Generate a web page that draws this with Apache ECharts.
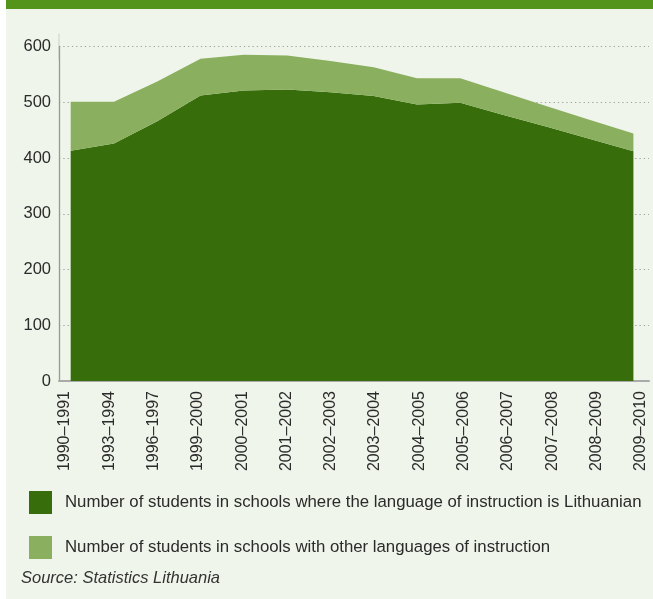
<!DOCTYPE html>
<html>
<head>
<meta charset="utf-8">
<script src="https://cdn.jsdelivr.net/npm/echarts@6/dist/echarts.min.js"></script>
<style>
  html, body { margin: 0; padding: 0; background: #fff; }
  #main { width: 653px; height: 599px; }
</style>
</head>
<body>
<div id="main"></div>
<script>
var years = ['1990–1991', '1993–1994', '1996–1997', '1999–2000', '2000–2001', '2001–2002', '2002–2003',
    '2003–2004', '2004–2005', '2005–2006', '2006–2007', '2007–2008', '2008–2009', '2009–2010'];
// thousands of students
var lithuanian = [413, 426, 466, 512, 521, 523, 518, 511, 496, 499, 477, 456, 434, 412];
var other = [88, 75, 71, 66, 64, 61, 56, 52, 47, 44, 41, 37, 34, 32];
var yTicks = [0, 100, 200, 300, 400, 500, 600];

var nameLt = 'Number of students in schools where the language of instruction is Lithuanian';
var nameOther = 'Number of students in schools with other languages of instruction';

var font = "'Liberation Sans', Arial, sans-serif";
var txt = '#2b2b2b';

// value first so that stacking happens on the value dimension
function pairs(list) {
    return list.map(function (v, i) { return [v, i]; });
}

var myChart = echarts.init(document.getElementById('main'));

myChart.setOption({
    backgroundColor: '#eff5ea',
    animation: false,
    textStyle: {fontFamily: font},
    graphic: [
        {type: 'rect', shape: {x: 0, y: 0, width: 6, height: 599}, style: {fill: '#ffffff'}},
        {type: 'rect', shape: {x: 6, y: 0, width: 647, height: 9}, style: {fill: '#55941a'}},
        {
            type: 'text', left: 21, top: 570,
            style: {text: 'Source: Statistics Lithuania', font: 'italic 16.5px ' + font, fill: '#333'}
        }
    ],
    legend: {
        orient: 'vertical',
        left: 24,
        top: 486,
        itemWidth: 23,
        itemHeight: 23,
        itemGap: 22,
        icon: 'rect',
        selectedMode: false,
        textStyle: {fontSize: 16.8, color: txt, padding: [0, 0, 0, 8]},
        data: [nameLt, nameOther]
    },
    grid: [
        {left: 59, right: 4, top: 46.5, bottom: 218, outerBoundsMode: 'none'},
        // labels of the original chart are spaced a little wider than the data points
        {left: 42.85, right: -10, top: 46.5, bottom: 218, outerBoundsMode: 'none'}
    ],
    xAxis: [
        {
            type: 'value',
            gridIndex: 0,
            min: -0.27,
            max: 13.36,
            splitLine: {show: false},
            axisTick: {show: false},
            axisLabel: {show: false},
            axisLine: {show: true, onZero: false, lineStyle: {color: '#aaaaaa', width: 2}}
        },
        {
            type: 'category',
            gridIndex: 1,
            data: years,
            boundaryGap: true,
            axisLine: {show: false},
            axisTick: {show: false},
            splitLine: {show: false},
            axisLabel: {
                interval: 0,
                rotate: 90,
                margin: 10,
                fontSize: 16,
                color: txt
            }
        }
    ],
    yAxis: [
        {
            type: 'value',
            gridIndex: 0,
            min: yTicks[0],
            max: yTicks[yTicks.length - 1],
            interval: 100,
            axisTick: {show: false},
            axisLine: {
                show: true,
                onZero: false,
                symbol: ['none', 'rect'],
                symbolSize: [0.4, 26],
                lineStyle: {color: '#999999', width: 1.3}
            },
            axisLabel: {fontSize: 16.5, color: txt, margin: 8},
            splitLine: {show: true, lineStyle: {color: '#a0a0a0', type: [1.3, 3], width: 1}}
        },
        {
            type: 'value',
            gridIndex: 1,
            show: false
        }
    ],
    series: [
        {
            name: nameLt,
            type: 'line',
            stack: 'total',
            encode: {x: 1, y: 0},
            data: pairs(lithuanian),
            showSymbol: false,
            lineStyle: {width: 0},
            itemStyle: {color: '#386d0b'},
            areaStyle: {color: '#386d0b', opacity: 1}
        },
        {
            name: nameOther,
            type: 'line',
            stack: 'total',
            encode: {x: 1, y: 0},
            data: pairs(other),
            showSymbol: false,
            lineStyle: {width: 0},
            itemStyle: {color: '#8aaf5f'},
            areaStyle: {color: '#8aaf5f', opacity: 1}
        }
    ]
});
</script>
</body>
</html>
